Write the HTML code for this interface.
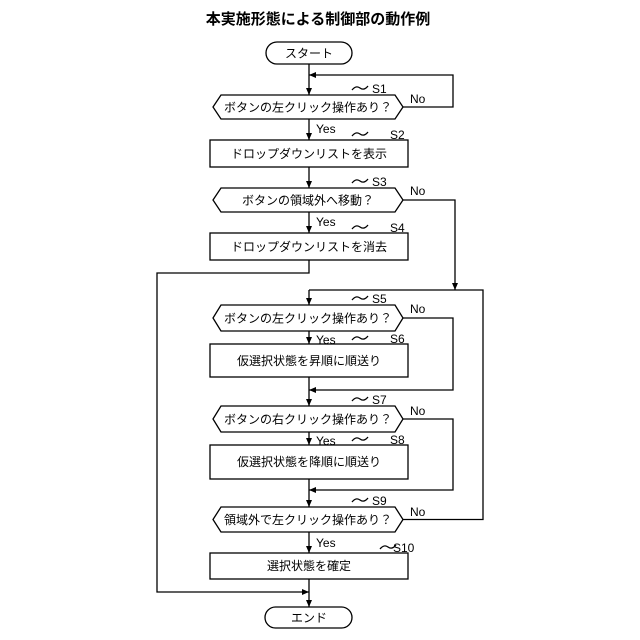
<!DOCTYPE html>
<html><head><meta charset="utf-8"><style>
body{margin:0;background:#fff;}
svg{display:block}
text{font-family:"Liberation Sans","Noto Sans CJK JP",sans-serif;fill:#000}
</style></head><body>
<svg width="640" height="640" viewBox="0 0 640 640">
<defs><marker id="a" markerWidth="8" markerHeight="8" refX="7" refY="4" orient="auto" markerUnits="userSpaceOnUse"><path d="M0,1 L7,4 L0,7Z" fill="#000"/></marker></defs>
<text x="318" y="24" font-size="15" font-weight="bold" text-anchor="middle">本実施形態による制御部の動作例</text>
<g fill="none" stroke="#000" stroke-width="1.3">
<rect x="266" y="42" width="86" height="22" rx="11"/>
<rect x="265" y="607" width="87" height="21" rx="10.5"/>
<path d="M221,95 L395,95 L403,107 L395,119 L221,119 L213,107Z"/>
<rect x="210" y="140" width="198" height="27"/>
<path d="M221,188 L395,188 L403,200 L395,212 L221,212 L213,200Z"/>
<rect x="210" y="233" width="198" height="27"/>
<path d="M221,305 L395,305 L403,318 L395,331 L221,331 L213,318Z"/>
<rect x="210" y="344" width="198" height="33"/>
<path d="M221,406 L395,406 L403,419 L395,432 L221,432 L213,419Z"/>
<rect x="210" y="445" width="198" height="34"/>
<path d="M221,507 L395,507 L403,519.5 L395,532 L221,532 L213,519.5Z"/>
<rect x="210" y="553" width="198" height="26"/>
<g marker-end="url(#a)">
<path d="M309,64 L309,95"/>
<path d="M309,119 L309,140"/>
<path d="M309,167 L309,188"/>
<path d="M309,212 L309,233"/>
<path d="M403,107 L453,107 L453,75 L309,75"/>
<path d="M403,200 L455,200 L455,290"/>
<path d="M309,290 L309,305"/>
<path d="M309,331 L309,344"/>
<path d="M309,377 L309,406"/>
<path d="M403,318 L453,318 L453,390 L309,390"/>
<path d="M309,432 L309,445"/>
<path d="M309,479 L309,507"/>
<path d="M403,419 L453,419 L453,490 L309,490"/>
<path d="M309,532 L309,553"/>
<path d="M309,579 L309,607"/>
<path d="M309,260 L309,273 L157,273 L157,592 L309,592"/>
</g>
<path d="M403,519.5 L483,519.5 L483,290 L309,290"/>
<path d="M352,90 q4,-5 8,-2 q4,3 8,-2"/><path d="M352,136 q4,-5 8,-2 q4,3 8,-2"/><path d="M352,183 q4,-5 8,-2 q4,3 8,-2"/><path d="M352,229 q4,-5 8,-2 q4,3 8,-2"/><path d="M352,300 q4,-5 8,-2 q4,3 8,-2"/><path d="M352,340 q4,-5 8,-2 q4,3 8,-2"/><path d="M352,401 q4,-5 8,-2 q4,3 8,-2"/><path d="M352,441 q4,-5 8,-2 q4,3 8,-2"/><path d="M352,502 q4,-5 8,-2 q4,3 8,-2"/><path d="M380,549 q4,-5 8,-2 q4,3 8,-2"/>
</g>
<g font-size="12">
<text x="309" y="57.5" text-anchor="middle">スタート</text>
<text x="309" y="622" text-anchor="middle">エンド</text>
<text x="308" y="111.5" text-anchor="middle">ボタンの左クリック操作あり？</text>
<text x="309" y="158" text-anchor="middle">ドロップダウンリストを表示</text>
<text x="308" y="204.5" text-anchor="middle">ボタンの領域外へ移動？</text>
<text x="309" y="251" text-anchor="middle">ドロップダウンリストを消去</text>
<text x="308" y="322.5" text-anchor="middle">ボタンの左クリック操作あり？</text>
<text x="309" y="365" text-anchor="middle">仮選択状態を昇順に順送り</text>
<text x="308" y="423.5" text-anchor="middle">ボタンの右クリック操作あり？</text>
<text x="309" y="466" text-anchor="middle">仮選択状態を降順に順送り</text>
<text x="308" y="524" text-anchor="middle">領域外で左クリック操作あり？</text>
<text x="309" y="570" text-anchor="middle">選択状態を確定</text>
<text x="372" y="93">S1</text><text x="390" y="139">S2</text><text x="372" y="186">S3</text><text x="390" y="232">S4</text>
<text x="372" y="303">S5</text><text x="390" y="343">S6</text><text x="372" y="404">S7</text><text x="390" y="444">S8</text>
<text x="372" y="505">S9</text><text x="393" y="552">S10</text>
<text x="316" y="133">Yes</text><text x="316" y="226">Yes</text><text x="316" y="344">Yes</text><text x="316" y="445">Yes</text><text x="316" y="547">Yes</text>
<text x="410" y="103">No</text><text x="410" y="195">No</text><text x="410" y="313">No</text><text x="410" y="415">No</text><text x="410" y="516">No</text>
</g>
</svg>
</body></html>
